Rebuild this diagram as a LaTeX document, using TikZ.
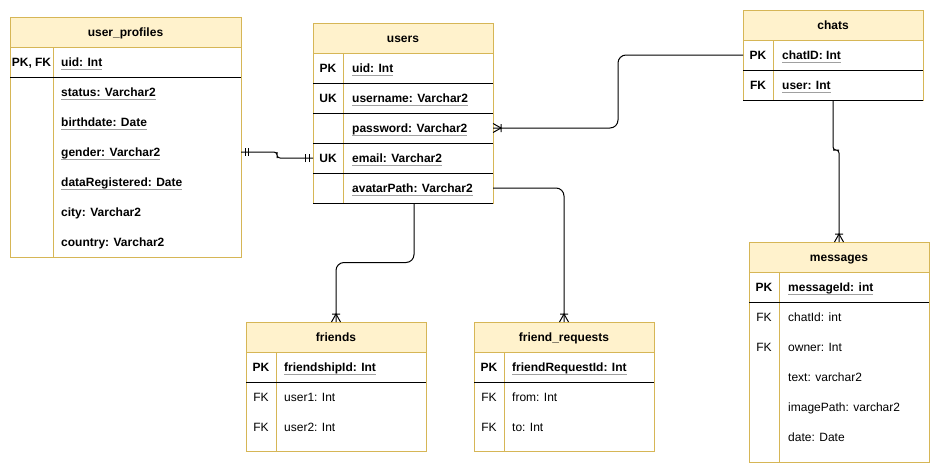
\documentclass[tikz,border=0pt]{standalone}
\usepackage{fontspec}
\setmainfont{Liberation Sans}
\usetikzlibrary{calc}
\definecolor{gold}{HTML}{D6B656}
\definecolor{hdrfill}{HTML}{FFF2CC}
\definecolor{ulgray}{HTML}{A0A0A0}
\newcommand\dfont{\fontsize{12}{14}\selectfont}
\newcommand\ulg[1]{\leavevmode\setbox0=\hbox{#1}\rlap{\textcolor{ulgray}{\rule[-3pt]{\wd0}{1pt}}}\box0}
\begin{document}
\begin{tikzpicture}[x=1pt,y=-1pt,
  tbox/.style={draw=gold, line width=1pt, anchor=north west, inner sep=0pt, outer sep=0pt},
  thead/.style={draw=gold, fill=hdrfill, line width=1pt, anchor=north west, inner sep=0pt, outer sep=0pt,
     minimum height=30pt, text height=9pt, text depth=0pt, font=\dfont\bfseries},
  rowbox/.style={anchor=north west, inner sep=0pt, outer sep=0pt, minimum height=30pt},
  keyb/.style={anchor=base, inner sep=0pt, font=\dfont\bfseries},
  keyn/.style={anchor=base, inner sep=0pt, font=\dfont},
  fb/.style={anchor=base west, inner sep=0pt, font=\dfont\bfseries},
  fn/.style={anchor=base west, inner sep=0pt, font=\dfont},
  colline/.style={draw=gold, line width=1pt},
  rowline/.style={draw=black, line width=1pt},
  conn/.style={draw=black, line width=1pt, rounded corners=8pt},
  mandone/.pic={\draw[line width=1pt] (4,-4) -- (4,4) (7.5,-4) -- (7.5,4);},
  crowfoot/.pic={\draw[line width=1pt] (0,-4.5) -- (8,0) -- (0,4.5) (8,-4) -- (8,4);}
]
\useasboundingbox (0,0) rectangle (940,472);

% ---------- user_profiles ----------
\node[tbox, minimum width=231pt, minimum height=240pt] (up) at (10,17) {};
\node[thead, minimum width=231pt] (up-h) at (10,17) {user\_profiles};
\node[rowbox, minimum width=231pt] (up-gender) at (10,137) {};
\draw[colline] (53,47) -- (53,257);
\draw[rowline] (10,77) -- (241,77);
\node[keyb] (up-k1) at (31.5,66.5) {PK, FK};
\node[fb] (up-f1) at (61,66.5) {\ulg{uid: Int}};
\node[fb] (up-f2) at (61,96.5) {\ulg{status: Varchar2}};
\node[fb] (up-f3) at (61,126.5) {\ulg{birthdate: Date}};
\node[fb] (up-f4) at (61,156.5) {\ulg{gender: Varchar2}};
\node[fb] (up-f5) at (61,186.5) {\ulg{dataRegistered: Date}};
\node[fb] (up-f6) at (61,216.5) {city: Varchar2};
\node[fb] (up-f7) at (61,246.5) {country: Varchar2};

% ---------- users ----------
\node[tbox, minimum width=180pt, minimum height=180pt] (us) at (313,23) {};
\node[thead, minimum width=180pt] (us-h) at (313,23) {users};
\node[rowbox, minimum width=180pt] (us-password) at (313,113) {};
\node[rowbox, minimum width=180pt] (us-email) at (313,143) {};
\node[rowbox, minimum width=180pt] (us-avatar) at (313,173) {};
\draw[colline] (343,53) -- (343,203);
\foreach \yy in {83,113,143,173,203} \draw[rowline] (313,\yy) -- (493,\yy);
\node[keyb] (us-k1) at (328,72.5) {PK};
\node[keyb] (us-k2) at (328,102.5) {UK};
\node[keyb] (us-k4) at (328,162.5) {UK};
\node[fb] (us-f1) at (352,72.5) {\ulg{uid: Int}};
\node[fb] (us-f2) at (352,102.5) {\ulg{username: Varchar2}};
\node[fb] (us-f3) at (352,132.5) {\ulg{password: Varchar2}};
\node[fb] (us-f4) at (352,162.5) {\ulg{email: Varchar2}};
\node[fb] (us-f5) at (352,192.5) {\ulg{avatarPath: Varchar2}};

% ---------- chats ----------
\node[tbox, minimum width=180pt, minimum height=90pt] (ch) at (743,10) {};
\node[thead, minimum width=180pt] (ch-h) at (743,10) {chats};
\node[rowbox, minimum width=180pt] (ch-chatid) at (743,40) {};
\draw[colline] (773,40) -- (773,100);
\foreach \yy in {70,100} \draw[rowline] (743,\yy) -- (923,\yy);
\node[keyb] (ch-k1) at (758,59.5) {PK};
\node[keyb] (ch-k2) at (758,89.5) {FK};
\node[fb] (ch-f1) at (782,59.5) {\ulg{chatID: Int}};
\node[fb] (ch-f2) at (782,89.5) {\ulg{user: Int}};

% ---------- messages ----------
\node[tbox, minimum width=180pt, minimum height=220pt] (ms) at (749,242) {};
\node[thead, minimum width=180pt] (ms-h) at (749,242) {messages};
\draw[colline] (779,272) -- (779,462);
\draw[rowline] (749,302) -- (929,302);
\node[keyb] (ms-k1) at (764,291.5) {PK};
\node[keyn] (ms-k2) at (764,321.5) {FK};
\node[keyn] (ms-k3) at (764,351.5) {FK};
\node[fb] (ms-f1) at (788,291.5) {\ulg{messageId: int}};
\node[fn] (ms-f2) at (788,321.5) {chatId: int};
\node[fn] (ms-f3) at (788,351.5) {owner: Int};
\node[fn] (ms-f4) at (788,381.5) {text: varchar2};
\node[fn] (ms-f5) at (788,411.5) {imagePath: varchar2};
\node[fn] (ms-f6) at (788,441.5) {date: Date};

% ---------- friends ----------
\node[tbox, minimum width=180pt, minimum height=129pt] (fr) at (246,322) {};
\node[thead, minimum width=180pt] (fr-h) at (246,322) {friends};
\draw[colline] (276,352) -- (276,451);
\draw[rowline] (246,382) -- (426,382);
\node[keyb] (fr-k1) at (261,371.5) {PK};
\node[keyn] (fr-k2) at (261,401.5) {FK};
\node[keyn] (fr-k3) at (261,431.5) {FK};
\node[fb] (fr-f1) at (284,371.5) {\ulg{friendshipId: Int}};
\node[fn] (fr-f2) at (284,401.5) {user1: Int};
\node[fn] (fr-f3) at (284,431.5) {user2: Int};

% ---------- friend_requests ----------
\node[tbox, minimum width=180pt, minimum height=129pt] (fq) at (474,322) {};
\node[thead, minimum width=180pt] (fq-h) at (474,322) {friend\_requests};
\draw[colline] (504,352) -- (504,451);
\draw[rowline] (474,382) -- (654,382);
\node[keyb] (fq-k1) at (489,371.5) {PK};
\node[keyn] (fq-k2) at (489,401.5) {FK};
\node[keyn] (fq-k3) at (489,431.5) {FK};
\node[fb] (fq-f1) at (512,371.5) {\ulg{friendRequestId: Int}};
\node[fn] (fq-f2) at (512,401.5) {from: Int};
\node[fn] (fq-f3) at (512,431.5) {to: Int};

% ---------- connectors ----------
\coordinate (m1) at ($(up-gender.east)!0.5!(us-email.west)$);
\draw[conn, rounded corners=3pt] (up-gender.east) -| (m1) |- (us-email.west);
\pic at (up-gender.east) {mandone};
\pic[rotate=180] at (us-email.west) {mandone};

\coordinate (m2) at ($(us-password.east)!0.5!(ch-chatid.west)$);
\draw[conn] (us-password.east) -| (m2) |- (ch-chatid.west);
\pic at (us-password.east) {crowfoot};

\coordinate (s3) at ([xshift=11pt]us.south);
\coordinate (m3) at ($(s3)!0.5!(fr.north)$);
\draw[conn] (s3) |- (m3) -| (fr.north);
\pic[rotate=90] at (fr.north) {crowfoot};

\draw[conn] (us-avatar.east) -| (fq.north);
\pic[rotate=90] at (fq.north) {crowfoot};

\coordinate (m5) at ($(ch.south)+(3,50)$);
\draw[conn, rounded corners=3pt] (ch.south) |- (m5) -| (ms.north);
\pic[rotate=90] at (ms.north) {crowfoot};
\end{tikzpicture}
\end{document}
